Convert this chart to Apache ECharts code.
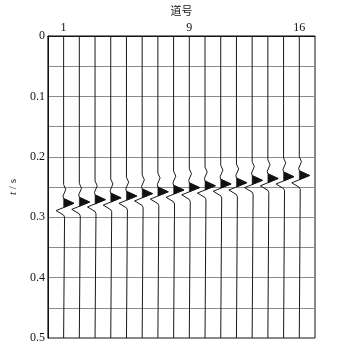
<!DOCTYPE html>
<html>
<head>
<meta charset="utf-8">
<script src="https://cdn.jsdelivr.net/npm/echarts@6/dist/echarts.min.js"></script>
<style>
html,body{margin:0;padding:0;background:#fff;}
#chart{width:341px;height:344px;}
</style>
</head>
<body>
<div id="chart"></div>
<script>
// Trace numbers (道号)
const traceNos = [1,2,3,4,5,6,7,8,9,10,11,12,13,14,15,16];
// Peak arrival time of each trace (s)
const arrivalTimes = [0.277,0.275,0.271,0.268,0.265,0.261,0.258,0.255,0.251,0.248,0.245,0.243,0.239,0.236,0.233,0.231];
// Wavelet shape: time offset from peak (s) and amplitude (trace spacings)
const waveletDt  = [-0.031, -0.023, -0.012, -0.008, 0, 0.007, 0.012, 0.0195, 0.023, 0.025];
const waveletAmp = [0, 0.14, -0.04, 0, 0.66, 0, -0.48, 0, 0.06, 0];
// Tick labels
const xTickLabels = ['1','9','16'];
const yTickLabels = ['0','0.1','0.2','0.3','0.4','0.5'];
const tStart = 0, tEnd = 0.5;

const chart = echarts.init(document.getElementById('chart'), null, {renderer:'canvas'});

const lineSeries = traceNos.map((n, k) => {
  const pts = [[n, tStart]];
  for (let j = 0; j < waveletDt.length; j++) {
    pts.push([n + waveletAmp[j], arrivalTimes[k] + waveletDt[j]]);
  }
  pts.push([n, tEnd]);
  return {
    type: 'line',
    data: pts,
    showSymbol: false,
    symbol: 'none',
    silent: true,
    animation: false,
    lineStyle: {color: '#1a1a1a', width: 1},
    z: 3
  };
});

// index of main positive lobe
let peakIdx = 0;
for (let j = 1; j < waveletAmp.length; j++) if (waveletAmp[j] > waveletAmp[peakIdx]) peakIdx = j;

const fillSeries = {
  type: 'custom',
  silent: true,
  animation: false,
  data: traceNos.map((n, k) => [n, arrivalTimes[k]]),
  renderItem: function (params, api) {
    const n = api.value(0), t0 = api.value(1);
    const pts = [];
    for (let j = peakIdx - 1; j <= peakIdx + 1; j++) {
      pts.push(api.coord([n + waveletAmp[j], t0 + waveletDt[j]]));
    }
    return {
      type: 'polygon',
      shape: {points: pts},
      style: {fill: '#111', stroke: '#111', lineWidth: 0.5}
    };
  },
  z: 4
};

const serif = '"Liberation Serif","DejaVu Serif",serif';

chart.setOption({
  animation: false,
  backgroundColor: '#fff',
  grid: {left: 34, right: 26, top: 29, bottom: 6, show: true, borderColor: '#111', borderWidth: 1, backgroundColor: 'transparent'},
  xAxis: {
    type: 'value',
    position: 'top',
    min: 0, max: 17, interval: 1,
    name: '道号',
    nameLocation: 'middle',
    nameGap: 20,
    nameTextStyle: {fontFamily: '"Noto Sans CJK SC",sans-serif', fontSize: 11, color: '#111'},
    axisLine: {show: true, lineStyle: {color: '#111'}},
    axisTick: {show: false},
    splitLine: {show: false},
    axisLabel: {
      margin: 2,
      fontFamily: serif, fontSize: 12, color: '#111',
      formatter: function (v) { const s = String(Math.round(v)); return xTickLabels.indexOf(s) >= 0 ? s : ''; }
    }
  },
  yAxis: {
    type: 'value',
    inverse: true,
    min: 0, max: 0.5, interval: 0.05,
    name: '{i|t} / s',
    nameLocation: 'middle',
    nameGap: 22,
    nameTextStyle: {fontFamily: serif, fontSize: 11, color: '#111', rich: {i: {fontStyle: 'italic', fontFamily: serif, fontSize: 11, color: '#111'}}},
    axisLine: {show: true, lineStyle: {color: '#111'}},
    axisTick: {show: false},
    splitLine: {show: true, lineStyle: {color: '#8a8a8a', width: 1}},
    axisLabel: {
      margin: 3,
      fontFamily: serif, fontSize: 12, color: '#111',
      formatter: function (v) {
        const r = Math.round(v * 100);
        if (r % 10 !== 0) return '';
        return yTickLabels[r / 10];
      }
    }
  },
  series: lineSeries.concat([fillSeries])
});
</script>
</body>
</html>
